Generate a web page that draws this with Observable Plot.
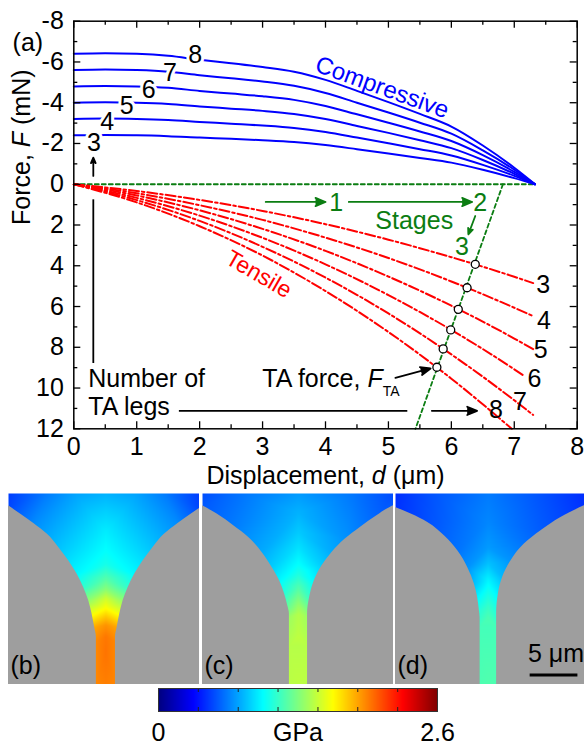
<!DOCTYPE html>
<html><head><meta charset="utf-8">
<script src="https://cdn.jsdelivr.net/npm/d3@7"></script>
<script src="https://cdn.jsdelivr.net/npm/@observablehq/plot@0.6"></script>
<style>
body{margin:0;background:#fff;}
#fig{position:relative;width:584px;height:746px;overflow:hidden;background:#fff;}
.abs{position:absolute;overflow:hidden;}
</style></head><body><div id="fig"></div>
<script>
// ---------- DATA (panel a) ----------
const legCounts = [3,4,5,6,7,8];
const compD  = [0,0.5,1,1.5,2,2.5,3,3.5,4,4.5,5,5.5,6,6.5,7,7.33];
const compF3 = [-2.40,-2.41,-2.40,-2.36,-2.29,-2.23,-2.16,-2.07,-1.92,-1.72,-1.51,-1.29,-1.06,-0.71,-0.30,0];
const compF4 = [-3.20,-3.22,-3.20,-3.15,-3.06,-2.97,-2.88,-2.76,-2.56,-2.29,-2.01,-1.72,-1.41,-0.95,-0.41,0];
const compF5 = [-4.00,-4.02,-4.00,-3.94,-3.82,-3.71,-3.60,-3.45,-3.20,-2.86,-2.52,-2.16,-1.77,-1.19,-0.51,0];
const compF6 = [-4.80,-4.82,-4.80,-4.73,-4.58,-4.45,-4.32,-4.14,-3.84,-3.43,-3.02,-2.59,-2.12,-1.43,-0.61,0];
const compF7 = [-5.60,-5.63,-5.60,-5.52,-5.35,-5.20,-5.04,-4.83,-4.48,-4.00,-3.52,-3.02,-2.48,-1.66,-0.71,0];
const compF8 = [-6.40,-6.43,-6.40,-6.30,-6.11,-5.94,-5.75,-5.52,-5.12,-4.58,-4.03,-3.45,-2.83,-1.90,-0.81,0];

const tensD  = [0,1,2,3,4,5,6,7];
const tensF3 = [0,0.33,0.77,1.31,1.96,2.72,3.58,4.54];
const tensF4 = [0,0.44,1.03,1.75,2.62,3.62,4.77,6.06];
const tensF5 = [0,0.55,1.28,2.19,3.27,4.53,5.96,7.57];
const tensF6 = [0,0.67,1.54,2.63,3.93,5.44,7.15,9.08];
const tensF7 = [0,0.78,1.80,3.07,4.58,6.34,8.35,10.60];
const tensF8 = [0,0.89,2.06,3.50,5.24,7.25,9.54,null];
const tensEndD = [7.30,7.30,7.30,7.15,7.30,6.96];
const tensEndF = [4.85,6.47,8.09,9.39,11.32,12.0];

const taForceD = [6.38,6.25,6.11,5.99,5.87,5.77];
const taForceF = [3.93,5.08,6.14,7.15,8.08,8.98];

const zeroLineD = [0,7.33], zeroLineF = [0,0];
const stageLineD = [6.82,5.43], stageLineF = [0,12];

const compLabelD = [0.32,0.53,0.84,1.19,1.53,1.93];
const compLabelF = [-2.04,-3.05,-3.85,-4.62,-5.45,-6.35];
const tensLabelD = [7.46,7.47,7.42,7.32,7.09,6.71];
const tensLabelF = [4.96,6.72,8.15,9.58,10.69,11.10];

const xMajor = [0,1,2,3,4,5,6,7,8];
const xMinor = [0.5,1.5,2.5,3.5,4.5,5.5,6.5,7.5];
const yMajor = [-8,-6,-4,-2,0,2,4,6,8,10,12];
const yMinor = [-7,-5,-3,-1,1,3,5,7,9,11];

// annotation arrows [x1,y1,x2,y2]
const blackLinks  = [[0.31,8.77,0.31,0.74],[1.67,11.12,5.30,11.12]];
const blackArrows = [[0.31,-0.41,0.31,-1.31],[5.69,11.12,6.41,11.12],[5.11,9.50,5.67,9.04]];
const greenArrows = [[3.05,0.87,4.00,0.87],[4.37,0.87,6.33,0.87],[6.38,1.56,6.27,2.46]];
const stageTexts = [["1",4.17,0.90],["2",6.46,0.90],["3",6.17,3.07],["Stages",5.41,1.78]];

// ---------- DATA (panels b-d) : [x µm, y µm, stress GPa] ----------
const stressB = [
 [10.2,20,0.78],[10.2,18,0.86],[10.2,16,0.93],[10.2,14,0.98],[10.2,12.6,1.03],[10.2,11,1.20],[10.2,10,1.32],[10.2,9,1.50],[10.2,8,1.62],[10.2,7.2,1.75],[10.2,6.2,1.90],[10.2,5,1.97],[10.2,3.5,1.98],[10.2,0,1.95],
 [0,18.71,0.50],[2.65,16.86,0.68],[5.26,14.35,0.82],[7.18,11.57,0.96],[7.87,10.17,1.10],[8.4,8.78,1.35],[8.75,7.39,1.60],[9.02,5.99,1.85],[9.2,4.5,1.93],[9.2,0,1.93],
 [20,18.6,0.50],[17.75,16.86,0.68],[15.14,14.35,0.82],[13.22,11.57,0.96],[12.53,10.17,1.10],[12.0,8.78,1.35],[11.65,7.39,1.60],[11.38,5.99,1.85],[11.2,4.5,1.93],[11.2,0,1.93],
 [0,20,0.48],[4,20,0.64],[7,20,0.74],[13.4,20,0.74],[16.4,20,0.64],[20,20,0.48],[0,0,1.0],[20,0,1.0]
];
const stressC = [
 [10.05,20,0.72],[10.05,18,0.78],[10.05,16,0.84],[10.05,14.35,0.90],[10.05,12.6,0.98],[10.05,11.6,1.05],[10.05,10.2,1.18],[10.05,8.5,1.34],[10.05,7.4,1.43],[10.05,5,1.46],[10.05,0,1.46],
 [0,18.71,0.55],[3.27,16.62,0.64],[6.24,13.83,0.76],[7.29,12.26,0.85],[8.08,10.87,0.96],[8.6,9.48,1.08],[8.92,8.26,1.22],[9.1,7.0,1.38],[9.1,4,1.44],[9.1,0,1.45],
 [11.0,0,1.45],[11.0,4,1.44],[11.0,7.0,1.38],[11.22,9.13,1.12],[11.71,10.87,0.96],[12.51,12.44,0.85],[13.56,13.83,0.76],[14.95,15.23,0.70],[16.52,16.45,0.64],[18.26,17.67,0.58],[20,18.7,0.55],
 [0,20,0.52],[4,20,0.62],[16,20,0.62],[20,20,0.52],[0,0,1.0],[20,0,1.0]
];
const stressD = [
 [9.72,20,0.64],[9.72,17,0.67],[9.72,14.35,0.72],[9.72,12.65,0.82],[9.72,10.9,0.95],[9.72,9.8,1.02],[9.72,8.1,1.12],[9.72,7,1.17],[9.72,0,1.18],
 [0,18.54,0.45],[3.38,16.97,0.53],[6.52,14.01,0.62],[7.56,12.26,0.70],[8.26,10.53,0.82],[8.6,9.13,0.96],[8.78,7.74,1.07],[8.86,6,1.15],[8.86,0,1.17],
 [10.59,0,1.17],[10.59,6,1.15],[10.59,7.39,1.07],[10.77,9.48,0.94],[11.22,11.22,0.80],[12.1,12.96,0.70],[13.49,14.71,0.62],[15.23,16.1,0.56],[17.32,17.49,0.51],[19.76,18.71,0.45],
 [0,20,0.44],[4,20,0.54],[15,20,0.54],[19.8,20,0.44],[0,0,1.0],[19.8,0,1.0]
];
const lobeBL = [[9.2,0],[9.2,4.94],[9.02,5.99],[8.75,7.39],[8.4,8.78],[7.87,10.17],[7.18,11.57],[6.3,12.96],[5.26,14.35],[4.05,15.76],[2.65,16.86],[1.25,17.85],[0,18.71]];
const lobeBR = [[11.2,0],[11.2,4.94],[11.38,5.99],[11.65,7.39],[12.0,8.78],[12.53,10.17],[13.22,11.57],[14.1,12.96],[15.14,14.35],[16.35,15.76],[17.75,16.86],[19.15,17.85],[20.4,18.71]];
const lobeCL = [[9.1,0],[9.1,7.39],[8.92,8.26],[8.6,9.48],[8.08,10.87],[7.29,12.26],[6.24,13.83],[4.84,15.4],[3.27,16.62],[1.53,17.85],[0,18.71]];
const lobeCR = [[11.0,0],[11.0,7.39],[11.22,9.13],[11.71,10.87],[12.51,12.44],[13.56,13.83],[14.95,15.23],[16.52,16.45],[18.26,17.67],[19.65,18.54],[20.2,18.8]];
const lobeDL = [[8.86,0],[8.86,7.0],[8.78,7.74],[8.6,9.13],[8.26,10.53],[7.56,12.26],[6.52,14.01],[5.12,15.58],[3.38,16.97],[1.64,17.85],[0,18.54]];
const lobeDR = [[10.59,0],[10.59,7.39],[10.77,9.48],[11.22,11.22],[12.1,12.96],[13.49,14.71],[15.23,16.1],[17.32,17.49],[19.76,18.71]];
const scaleBarUm = 5, scaleBarStart = 14.1;

const cbDomain = [0, 2.6];
const cbTicks = [0.371,0.743,1.114,1.486,1.857,2.229];
const cbLabels = [[0,"0"],[1.3,"GPa"],[2.6,"2.6"]];

// ---------- STYLE ----------
const FONT = '"Liberation Sans", Arial, Helvetica, sans-serif';
const BLUE = "#0000ff", RED = "#ff0000", GREEN = "#0b7d12", GRAY = "#9e9e9e";
const jet = d3.piecewise(d3.interpolateRgb, ["#00007f","#0000ff","#007fff","#00ffff","#7fff7f","#ffff00","#ff7f00","#ff0000","#7f0000"]);

// ---------- build rows ----------
const compAll = [compF3,compF4,compF5,compF6,compF7,compF8];
const tensAll = [tensF3,tensF4,tensF5,tensF6,tensF7,tensF8];
const compRows = legCounts.flatMap((n,i)=>compD.map((d,j)=>({n,d,F:compAll[i][j]})));
const tensRows = legCounts.flatMap((n,i)=>{
  const r = tensD.map((d,j)=>({n,d,F:tensAll[i][j]})).filter(p=>p.F!=null && p.d<tensEndD[i]);
  r.push({n,d:tensEndD[i],F:tensEndF[i]}); return r;});
const taRows = taForceD.map((d,i)=>({d,F:taForceF[i]}));
const zeroRows = zeroLineD.map((d,i)=>({d,F:zeroLineF[i]}));
const stageRows = stageLineD.map((d,i)=>({d,F:stageLineF[i]}));
const compLab = legCounts.map((n,i)=>({t:String(n),d:compLabelD[i],F:compLabelF[i]}));
const tensLab = legCounts.map((n,i)=>({t:String(n),d:tensLabelD[i],F:tensLabelF[i]}));
const seg = a=>({x1:a[0],y1:a[1],x2:a[2],y2:a[3]});

const W=584,H=492,mL=73.3,mR=7.3,mT=20.7,mB=63.7;
const fw=W-mL-mR, fh=H-mT-mB;
const TK=1.3;

const main = Plot.plot({
  width:W,height:H,marginLeft:mL,marginRight:mR,marginTop:mT,marginBottom:mB,
  style:{fontFamily:FONT,fontSize:"25px",background:"white",color:"black",overflow:"visible"},
  x:{domain:[0,8]}, y:{domain:[-8,12],reverse:true},
  marks:[
    Plot.line(zeroRows,{x:"d",y:"F",stroke:GREEN,strokeWidth:1.8,strokeDasharray:"4,3"}),
    Plot.line(stageRows,{x:"d",y:"F",stroke:GREEN,strokeWidth:1.8,strokeDasharray:"4,3"}),
    Plot.line(tensRows,{x:"d",y:"F",z:"n",stroke:RED,strokeWidth:2,strokeDasharray:"10,3,2.5,3",curve:"monotone-x"}),
    Plot.line(compRows,{x:"d",y:"F",z:"n",stroke:BLUE,strokeWidth:2,curve:"monotone-x"}),
    Plot.text(compLab,{x:"d",y:"F",text:"t",fill:"black",stroke:"white",strokeWidth:6}),
    Plot.text(tensLab,{x:"d",y:"F",text:"t",fill:"black"}),
    Plot.link(blackLinks.map(seg),{x1:"x1",y1:"y1",x2:"x2",y2:"y2",stroke:"black",strokeWidth:1.8}),
    Plot.arrow(blackArrows.map(seg),{x1:"x1",y1:"y1",x2:"x2",y2:"y2",stroke:"black",fill:"black",strokeWidth:1.8,headLength:9,headAngle:45}),
    Plot.arrow(greenArrows.map(seg),{x1:"x1",y1:"y1",x2:"x2",y2:"y2",stroke:GREEN,fill:GREEN,strokeWidth:1.8,headLength:9,headAngle:45}),
    Plot.dot(taRows,{x:"d",y:"F",r:4,stroke:"black",fill:"white",strokeWidth:1.3}),
    Plot.text(stageTexts,{x:d=>d[1],y:d=>d[2],text:d=>d[0],fill:GREEN}),
    Plot.text(["Compressive"],{x:4.90,y:-4.75,rotate:20,fill:BLUE,fontSize:24}),
    Plot.text(["Tensile"],{x:2.94,y:4.42,rotate:30,fill:RED,fontSize:23}),
    Plot.text(["(a)"],{x:-0.73,y:-6.92}),
    Plot.text(["Number of"],{x:0.23,y:9.55,textAnchor:"start"}),
    Plot.text(["TA legs"],{x:0.23,y:10.93,textAnchor:"start"}),
    Plot.text(["TA force, F"],{x:2.995,y:9.58,textAnchor:"start"}),
    // ticks inside frame
    Plot.tickX(xMajor,{x:d=>d,insetTop:fh-7,strokeWidth:TK}),
    Plot.tickX(xMinor,{x:d=>d,insetTop:fh-4,strokeWidth:TK}),
    Plot.tickX(xMajor,{x:d=>d,insetBottom:fh-7,strokeWidth:TK}),
    Plot.tickX(xMinor,{x:d=>d,insetBottom:fh-4,strokeWidth:TK}),
    Plot.tickY(yMajor,{y:d=>d,insetRight:fw-7,strokeWidth:TK}),
    Plot.tickY(yMinor,{y:d=>d,insetRight:fw-4,strokeWidth:TK}),
    Plot.tickY(yMajor,{y:d=>d,insetLeft:fw-7,strokeWidth:TK}),
    Plot.tickY(yMinor,{y:d=>d,insetLeft:fw-4,strokeWidth:TK}),
    Plot.frame({stroke:"black",strokeWidth:1.5}),
    Plot.axisX(xMajor,{tickSize:0,tickPadding:8,tickFormat:d=>String(d),label:null,fontSize:25}),
    Plot.axisY(yMajor,{tickSize:0,tickPadding:10,tickFormat:d=>String(d),label:null,fontSize:25}),
    Plot.text(["Displacement, d (μm)"],{frameAnchor:"bottom",dy:55,lineAnchor:"bottom"}),
    Plot.text(["Force, F (mN)"],{frameAnchor:"left",dx:-44.3,rotate:-90,lineAnchor:"bottom"})
  ]
});

function rich(svg, plain, parts){
  d3.select(svg).selectAll("text").filter(function(){return this.textContent===plain;}).each(function(){
    const t=d3.select(this); t.text(null); t.style("white-space","pre");
    for(const p of parts){
      const s=t.append("tspan").text(p.t);
      if(p.i) s.attr("font-style","italic");
      if(p.size) s.attr("font-size",p.size);
      if(p.dy) s.attr("dy",p.dy);
    }
  });
}
rich(main,"Displacement, d (μm)",[{t:"Displacement, "},{t:"d",i:1},{t:" (μm)"}]);
rich(main,"Force, F (mN)",[{t:"Force, "},{t:"F",i:1},{t:" (mN)"}]);
rich(main,"TA force, F",[{t:"TA force, "},{t:"F",i:1},{t:"TA",size:14,dy:9}]);

const fig = document.getElementById("fig");
function place(el,left,top,w,h){const d=document.createElement("div");d.className="abs";d.style.left=left+"px";d.style.top=top+"px";d.style.width=w+"px";d.style.height=h+"px";d.appendChild(el);fig.appendChild(d);}
place(main,0,0,W,H);

const PX = 191/20; // px per µm
function panel(stress,lobeL,lobeR,label,w,extra){
  return Plot.plot({
    width:w,height:191,marginLeft:0,marginRight:0,marginTop:0,marginBottom:0,
    style:{fontFamily:FONT,fontSize:"25px",background:"white",color:"black"},
    x:{domain:[0,w/PX],axis:null}, y:{domain:[0,20],axis:null},
    color:{type:"linear",domain:cbDomain,interpolate:jet},
    marks:[
      Plot.raster(stress,{x:d=>d[0],y:d=>d[1],fill:d=>d[2],interpolate:"barycentric"}),
      Plot.areaX(lobeL,{y:d=>d[1],x1:0,x2:d=>d[0],fill:GRAY,curve:"monotone-y"}),
      Plot.areaX(lobeR,{y:d=>d[1],x1:d=>d[0],x2:21,fill:GRAY,curve:"monotone-y"}),
      Plot.text([label],{frameAnchor:"bottom-left",dx:2,dy:-10.7,lineAnchor:"bottom",textAnchor:"start"}),
      ...(extra||[])
    ]
  });
}
place(panel(stressB,lobeBL,lobeBR,"(b)",191),8,493,191,191);
place(panel(stressC,lobeCL,lobeCR,"(c)",191),202,493,191,191);
place(panel(stressD,lobeDL,lobeDR,"(d)",189,[
  Plot.ruleY([1.0],{y:d=>d,x1:scaleBarStart,x2:scaleBarStart+scaleBarUm,stroke:"black",strokeWidth:3}),
  Plot.text(["5 μm"],{x:scaleBarStart+scaleBarUm/2+0.2,frameAnchor:"bottom",dy:-22.3,lineAnchor:"bottom"})
]),395,493,189,191);

const cb = Plot.plot({
  width:279,height:58,marginLeft:0,marginRight:0,marginTop:0,marginBottom:35,
  style:{fontFamily:FONT,fontSize:"25px",background:"transparent",color:"black",overflow:"visible"},
  x:{domain:cbDomain,axis:null}, y:{domain:[0,1],axis:null},
  color:{type:"linear",domain:cbDomain,interpolate:jet},
  marks:[
    Plot.raster({fill:(x,y)=>x,x1:cbDomain[0],x2:cbDomain[1],y1:0,y2:1,pixelSize:1}),
    Plot.tickX(cbTicks,{x:d=>d,insetBottom:19,stroke:"#222"}),
    Plot.tickX(cbTicks,{x:d=>d,insetTop:19,stroke:"#222"}),
    Plot.frame({stroke:"#333",strokeWidth:1}),
    Plot.text(cbLabels,{x:d=>d[0],text:d=>d[1],frameAnchor:"bottom",dy:29,lineAnchor:"bottom"})
  ]
});
const cbd=document.createElement("div");cbd.style.cssText="position:absolute;left:158px;top:688px;";cbd.appendChild(cb);fig.appendChild(cbd);
</script></body></html>
